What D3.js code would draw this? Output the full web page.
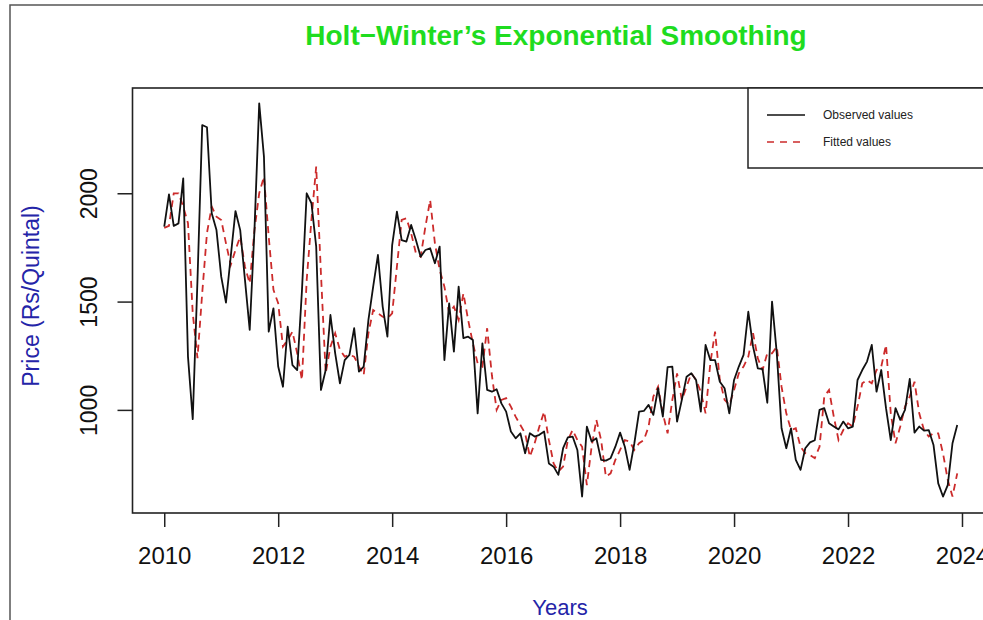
<!DOCTYPE html>
<html>
<head>
<meta charset="utf-8">
<script src="https://cdn.jsdelivr.net/npm/d3@7"></script>
<style>
  body { margin: 0; background: #fff; }
  text { font-family: "Liberation Sans", Arial, Helvetica, sans-serif; }
</style>
</head>
<body>
<svg width="983" height="620"></svg>
<script>
const startYear = 2010;
const yearTicks = [2010, 2012, 2014, 2016, 2018, 2020, 2022, 2024];
const priceTicks = [1000, 1500, 2000];

// monthly prices, Jan 2010 .. Dec 2023
const observed = [
  1846, 1995, 1849, 1861, 2069, 1246, 957, 1600, 2315, 2305, 1908, 1830,
  1615, 1495, 1707, 1918, 1830, 1600, 1369, 1830, 2415, 2169, 1361, 1469,
  1200, 1107, 1384, 1207, 1184, 1550, 2000, 1954, 1754, 1092, 1184, 1438,
  1261, 1123, 1230, 1254, 1377, 1177, 1200, 1415, 1569, 1715, 1477, 1338,
  1761, 1915, 1784, 1777, 1854, 1784, 1707, 1738, 1746, 1677, 1754, 1230,
  1492, 1269, 1569, 1331, 1338, 1323, 984, 1307, 1092, 1084, 1095, 1030,
  992, 900, 869, 892, 800, 892, 877, 885, 900, 753, 738, 700,
  823, 873, 877, 815, 600, 923, 854, 869, 769, 766, 777, 830,
  895, 830, 723, 846, 992, 995, 1023, 977, 1100, 969, 1197, 1200,
  946, 1046, 1153, 1169, 1138, 992, 1300, 1230, 1230, 1130, 1100, 984,
  1138, 1200, 1254, 1453, 1292, 1192, 1188, 1033, 1500, 1261, 915, 823,
  915, 769, 723, 823, 850, 860, 1000, 1008, 938, 923, 910, 946,
  915, 923, 1138, 1184, 1223, 1300, 1084, 1184, 1008, 861, 1008, 954,
  1000, 1143, 895, 923, 904, 907, 838, 661, 600, 653, 846, 930
];

const fitted = [
  1840, 1850, 2000, 2000, 1938, 1862, 1447, 1239, 1540, 1817, 1938, 1892,
  1877, 1769, 1669, 1738, 1800, 1661, 1584, 1830, 2000, 2077, 1800, 1554,
  1492, 1292, 1323, 1361, 1261, 1138, 1600, 1877, 2123, 1630, 1169, 1292,
  1354, 1277, 1246, 1254, 1246, 1200, 1161, 1354, 1461, 1446, 1430, 1423,
  1446, 1661, 1877, 1885, 1815, 1723, 1707, 1846, 1969, 1769, 1646, 1569,
  1446, 1477, 1415, 1538, 1415, 1307, 1215, 1200, 1377, 1160, 1000, 1046,
  1054, 1015, 969, 930, 892, 784, 846, 923, 992, 861, 753, 715,
  738, 861, 907, 861, 830, 653, 830, 954, 861, 692, 707, 769,
  815, 861, 854, 815, 846, 861, 923, 1062, 1107, 984, 892, 1046,
  1169, 1046, 1107, 1169, 1138, 1084, 984, 1215, 1361, 1138, 1046, 1023,
  1092, 1169, 1200, 1246, 1354, 1238, 1184, 1261, 1261, 1292, 1107, 984,
  907, 915, 830, 800, 792, 777, 830, 1062, 1092, 969, 861, 907,
  938, 923, 1015, 1123, 1138, 1123, 1184, 1200, 1300, 984, 846, 923,
  1015, 1062, 1130, 984, 907, 877, 892, 892, 800, 677, 600, 707
];

const svg = d3.select("svg");
const box = { left: 132.5, right: 989, top: 88, bottom: 513 };

// outer frame of the original figure
svg.append("rect")
  .attr("x", 10).attr("y", 5).attr("width", 1100).attr("height", 700)
  .attr("fill", "none").attr("stroke", "#555").attr("stroke-width", 1.5);

const x = d3.scaleLinear().domain([2009.443, 2024.474]).range([box.left, box.right]);
const y = d3.scaleLinear().domain([524, 2486]).range([box.bottom, box.top]);

const tx = i => startYear + i / 12;

// x axis
const xAxis = svg.append("g")
  .attr("transform", `translate(0,${box.bottom})`)
  .call(d3.axisBottom(x).tickValues(yearTicks).tickFormat(d3.format("d")).tickSize(14).tickPadding(20));
xAxis.select(".domain").remove();
xAxis.selectAll("line").attr("stroke", "#222").attr("stroke-width", 1.5);
xAxis.selectAll("text").attr("font-size", 24).attr("fill", "#111")
  .attr("font-family", "'Liberation Sans', Arial, sans-serif");

// y axis, labels rotated like base R
const yAxis = svg.append("g")
  .attr("transform", `translate(${box.left},0)`)
  .call(d3.axisLeft(y).tickValues(priceTicks).tickFormat(d3.format("d")).tickSize(15));
yAxis.select(".domain").remove();
yAxis.selectAll("line").attr("stroke", "#222").attr("stroke-width", 1.5);
yAxis.selectAll("text").remove();
yAxis.selectAll(".tick").append("text")
  .attr("transform", "translate(-44,0) rotate(-90)")
  .attr("text-anchor", "middle")
  .attr("dominant-baseline", "central")
  .attr("font-size", 23).attr("fill", "#111")
  .attr("font-family", "'Liberation Sans', Arial, sans-serif")
  .text(d => d);

// series
const line = (vals) => d3.line().x((d, i) => x(tx(i))).y(d => y(d))(vals);

svg.append("path")
  .attr("d", line(fitted))
  .attr("fill", "none").attr("stroke", "#cc2b2b").attr("stroke-width", 1.8)
  .attr("stroke-dasharray", "7,5");

svg.append("path")
  .attr("d", line(observed))
  .attr("fill", "none").attr("stroke", "#111").attr("stroke-width", 1.8)
  .attr("stroke-linejoin", "round");

// plot frame
svg.append("rect")
  .attr("x", box.left).attr("y", box.top)
  .attr("width", box.right - box.left).attr("height", box.bottom - box.top)
  .attr("fill", "none").attr("stroke", "#222").attr("stroke-width", 1.6);

// legend (top right)
const lg = svg.append("g");
lg.append("rect")
  .attr("x", 748).attr("y", box.top).attr("width", box.right - 748).attr("height", 80)
  .attr("fill", "#fff").attr("stroke", "#222").attr("stroke-width", 1.5);
const legendItems = [
  { label: "Observed values", color: "#111", dash: null },
  { label: "Fitted values", color: "#cc2b2b", dash: "7,6" }
];
legendItems.forEach((d, k) => {
  const ly = 115 + k * 27;
  lg.append("line")
    .attr("x1", 767).attr("x2", 805).attr("y1", ly).attr("y2", ly)
    .attr("stroke", d.color).attr("stroke-width", 1.6)
    .attr("stroke-dasharray", d.dash);
  lg.append("text")
    .attr("x", 823).attr("y", ly).attr("dominant-baseline", "central")
    .attr("font-size", 12).attr("fill", "#222")
    .text(d.label);
});

// titles
svg.append("text")
  .attr("x", 556).attr("y", 35)
  .attr("text-anchor", "middle").attr("dominant-baseline", "central")
  .attr("font-size", 28).attr("font-weight", "bold").attr("fill", "#1fdc1f")
  .text("Holt\u2212Winter\u2019s Exponential Smoothing");

svg.append("text")
  .attr("x", 560).attr("y", 607)
  .attr("text-anchor", "middle").attr("dominant-baseline", "central")
  .attr("font-size", 22).attr("fill", "#2424a8")
  .text("Years");

svg.append("text")
  .attr("transform", "translate(31,296) rotate(-90)")
  .attr("text-anchor", "middle").attr("dominant-baseline", "central")
  .attr("font-size", 23).attr("fill", "#2424a8")
  .text("Price (Rs/Quintal)");
</script>
</body>
</html>
